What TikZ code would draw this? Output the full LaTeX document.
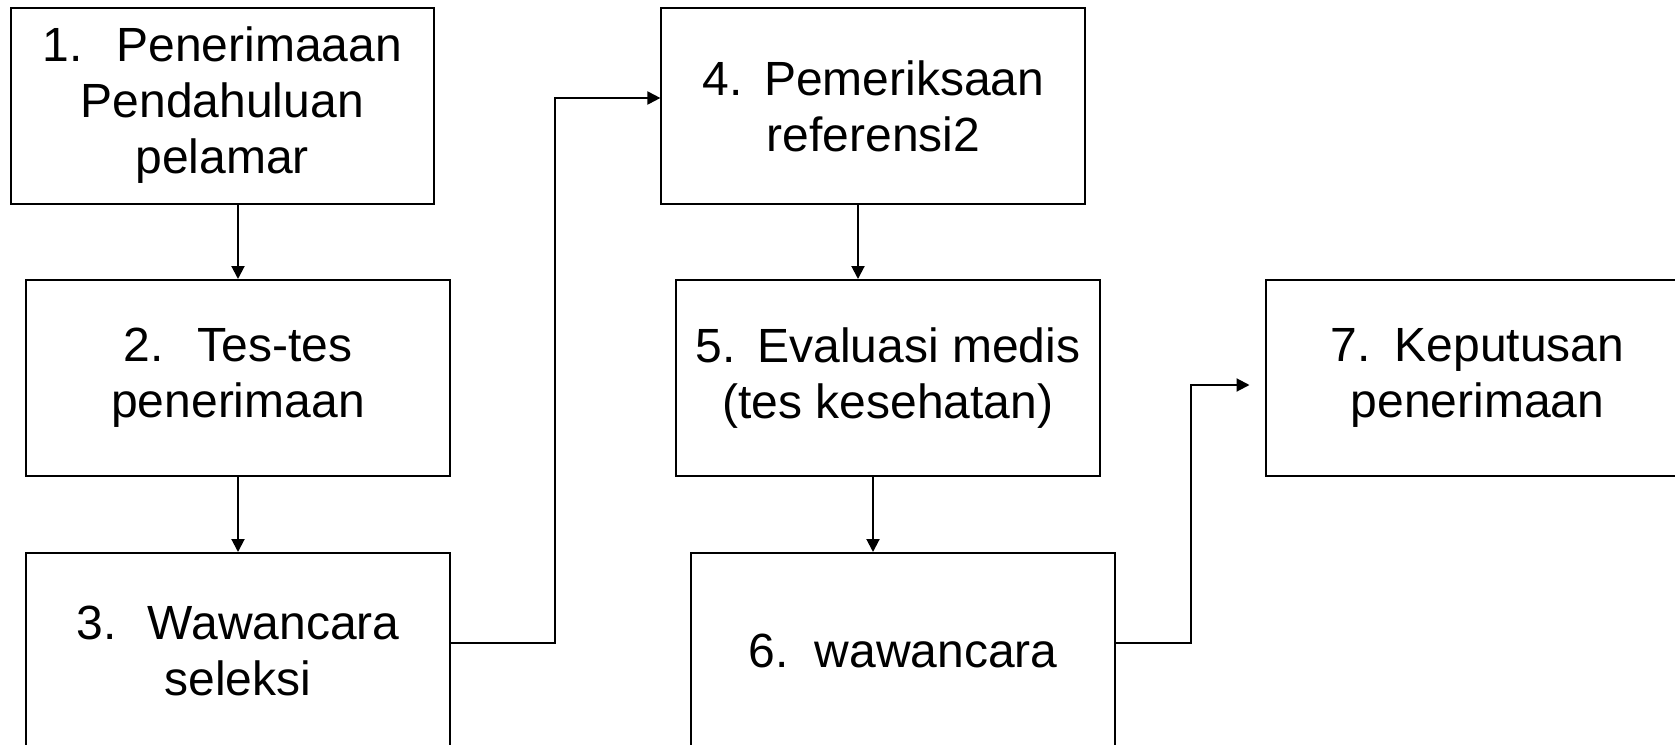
\documentclass[tikz,border=0pt]{standalone}
\usepackage{fontspec}
\setmainfont{Liberation Sans}
\usetikzlibrary{arrows.meta}
\begin{document}
\begin{tikzpicture}[x=0.5pt,y=-0.5pt,
  stepbox/.style={draw,line width=1pt,align=center,inner sep=0pt,
    minimum width=212pt,minimum height=98pt,font=\fontsize{24}{28}\selectfont},
  arr/.style={line width=1pt,-{Triangle[length=6.5pt,width=6.5pt]}}]
\useasboundingbox (0,0) rectangle (1675,744);
\node[stepbox,minimum width=211.5pt] (b1) at (222.3,105.5) {1.\hspace{0.7em}Penerimaaan\\Pendahuluan\\pelamar};
\node[stepbox] (b2) at (238,378) {2.\hspace{0.7em}Tes-tes\\penerimaan};
\node[stepbox] (b3) at (238,651) {3.\hspace{0.65em}Wawancara\\seleksi};
\node[stepbox] (b4) at (873.4,106) {4.\hspace{0.45em}Pemeriksaan\\referensi2};
\node[stepbox] (b5) at (888,378) {5.\hspace{0.45em}Evaluasi medis\\(tes kesehatan)};
\node[stepbox] (b6) at (903,651) {6.\hspace{0.55em}wawancara};
\node[stepbox] (b7) at (1477.5,378) {7.\hspace{0.5em}Keputusan\\penerimaan};
\coordinate (k1) at (554.6,643);
\coordinate (k2) at (554.6,98);
\coordinate (k3) at (1190.5,643);
\coordinate (k4) at (1190.5,385);
\draw[arr] (b1.south -| b2.north) -- (b2.north);
\draw[arr] (b2) -- (b3);
\draw[arr] (b3.east |- k1) -- (k1) -- (k2) -- (b4.west |- k2);
\draw[arr] ([xshift=-15pt]b4.south -| b5.north) -- ([xshift=-15pt]b5.north);
\draw[arr] ([xshift=-15pt]b5.south -| b6.north) -- ([xshift=-15pt]b6.north);
\draw[arr,shorten >=7.5pt] (b6.east |- k3) -- (k3) -- (k4) -- (b7.west |- k4);
\end{tikzpicture}
\end{document}
